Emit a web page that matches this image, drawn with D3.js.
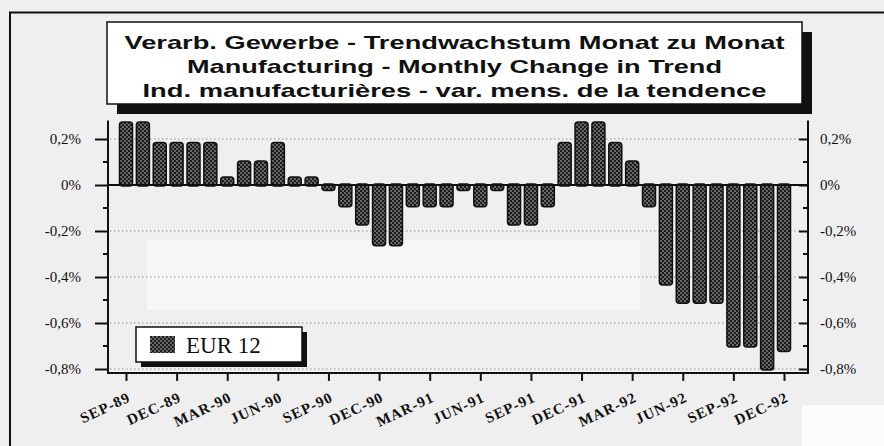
<!DOCTYPE html>
<html>
<head>
<meta charset="utf-8">
<script src="https://cdn.jsdelivr.net/npm/d3@7"></script>
<style>
  body { margin: 0; background: #efefef; }
  svg { display: block; }
</style>
</head>
<body>
<div id="chart"></div>
<script>
// monthly change in trend, EUR 12, Sep 1989 - Dec 1992
const months = ["SEP-89","OCT-89","NOV-89","DEC-89","JAN-90","FEB-90","MAR-90","APR-90","MAY-90","JUN-90",
  "JUL-90","AUG-90","SEP-90","OCT-90","NOV-90","DEC-90","JAN-91","FEB-91","MAR-91","APR-91",
  "MAY-91","JUN-91","JUL-91","AUG-91","SEP-91","OCT-91","NOV-91","DEC-91","JAN-92","FEB-92",
  "MAR-92","APR-92","MAY-92","JUN-92","JUL-92","AUG-92","SEP-92","OCT-92","NOV-92","DEC-92"];
const eur12 = [0.27, 0.27, 0.18, 0.18, 0.18, 0.18, 0.03, 0.10, 0.10, 0.18,
  0.03, 0.03, -0.02, -0.09, -0.17, -0.26, -0.26, -0.09, -0.09, -0.09,
  -0.02, -0.09, -0.02, -0.17, -0.17, -0.09, 0.18, 0.27, 0.27, 0.18,
  0.10, -0.09, -0.43, -0.51, -0.51, -0.51, -0.70, -0.70, -0.80, -0.72];
const xTickLabels = ["SEP-89","DEC-89","MAR-90","JUN-90","SEP-90","DEC-90","MAR-91","JUN-91",
  "SEP-91","DEC-91","MAR-92","JUN-92","SEP-92","DEC-92"];
const yTicks = [0.2, 0, -0.2, -0.4, -0.6, -0.8];
const yMinor = [0.1, -0.1, -0.3, -0.5, -0.7];
const titleLines = ["Verarb. Gewerbe - Trendwachstum Monat zu Monat",
  "Manufacturing - Monthly Change in Trend",
  "Ind. manufacturières - var. mens. de la tendence"];
const seriesName = "EUR 12";

const W = 884, H = 446;
const svg = d3.select("#chart").append("svg")
    .attr("width", W).attr("height", H);

const defs = svg.append("defs");
const pat = defs.append("pattern")
    .attr("id", "dots").attr("patternUnits", "userSpaceOnUse")
    .attr("width", 4).attr("height", 4);
pat.append("rect").attr("width", 4).attr("height", 4).attr("fill", "#1c1c1c");
pat.append("circle").attr("cx", 1).attr("cy", 1).attr("r", 0.9).attr("fill", "#8a8a8a");
pat.append("circle").attr("cx", 3).attr("cy", 3).attr("r", 0.9).attr("fill", "#8a8a8a");

// background + scan artefacts
svg.append("rect").attr("width", W).attr("height", H).attr("fill", "#efefef");
svg.append("rect").attr("x", 147).attr("y", 240).attr("width", 493).attr("height", 70).attr("fill", "#f6f6f6");
svg.append("rect").attr("x", 802).attr("y", 405).attr("width", 82).attr("height", 41).attr("fill", "#fbfbfb");

// outer frame
svg.append("path").attr("d", "M10,446V12.5H884")
    .attr("fill", "none").attr("stroke", "#111").attr("stroke-width", 2);

// scales
const axL = 108, axR = 808;
const x = d3.scalePoint().domain(months).range([126, 784]);
const y = d3.scaleLinear().domain([-0.8, 0.2]).range([369, 139]);
const yTop = y(0.28), yBot = y(-0.817);
const bw = 13;

const fmt = d => (d === 0 ? "0%" : d3.format(".1f")(d).replace("\u2212", "-").replace(".", ",") + "%");

// dotted grid
svg.append("g").selectAll("line")
  .data(yTicks.filter(d => d !== 0))
  .join("line")
    .attr("x1", axL + 2).attr("x2", axR - 2)
    .attr("y1", d => y(d)).attr("y2", d => y(d))
    .attr("stroke", "#8f8f8f").attr("stroke-width", 1)
    .attr("stroke-dasharray", "1.5,2.5");

// left axis
const gl = svg.append("g").attr("transform", `translate(${axL},0)`);
gl.call(d3.axisLeft(y).tickValues(yTicks).tickSize(13).tickFormat(fmt).tickPadding(14));
gl.select(".domain").remove();
gl.append("line").attr("y1", yTop).attr("y2", yBot).attr("stroke", "#111").attr("stroke-width", 2);
gl.selectAll(".minor").data(yMinor).join("line").attr("class", "minor")
    .attr("x1", -5).attr("x2", 0).attr("y1", d => y(d)).attr("y2", d => y(d))
    .attr("stroke", "#111").attr("stroke-width", 2);

// right axis (ticks inward)
const gr = svg.append("g").attr("transform", `translate(${axR},0)`);
gr.call(d3.axisRight(y).tickValues(yTicks).tickSize(-9).tickFormat(fmt).tickPadding(12));
gr.select(".domain").remove();
gr.append("line").attr("y1", yTop).attr("y2", yBot).attr("stroke", "#111").attr("stroke-width", 2);
gr.selectAll(".minor").data(yMinor).join("line").attr("class", "minor")
    .attr("x1", -5).attr("x2", 0).attr("y1", d => y(d)).attr("y2", d => y(d))
    .attr("stroke", "#111").attr("stroke-width", 2);

[gl, gr].forEach(g => {
  g.selectAll(".tick line").attr("stroke", "#111").attr("stroke-width", 2);
  g.selectAll(".tick text")
    .attr("font-family", "'Liberation Serif', 'Times New Roman', serif")
    .attr("font-size", 15).attr("fill", "#111");
});
gr.selectAll(".tick text").attr("x", 12);

// bottom axis
svg.append("line").attr("x1", axL - 1).attr("x2", axR + 1)
    .attr("y1", yBot).attr("y2", yBot).attr("stroke", "#111").attr("stroke-width", 2);
const gx = svg.append("g").attr("transform", `translate(0,${yBot})`);
gx.call(d3.axisBottom(x).tickValues(xTickLabels).tickSize(8).tickFormat(""));
gx.select(".domain").remove();
gx.selectAll(".tick line").attr("stroke", "#111").attr("stroke-width", 2);
gx.selectAll(".tick").append("text")
    .attr("transform", "translate(5,28) rotate(-25)")
    .attr("text-anchor", "end")
    .attr("font-family", "'Liberation Serif', 'Times New Roman', serif")
    .attr("font-size", 15).attr("font-weight", "bold").attr("letter-spacing", 1)
    .attr("fill", "#111")
    .text(d => d);

// bars
svg.append("g").selectAll("rect")
  .data(months.map((m, i) => ({m, v: eur12[i]})))
  .join("rect")
    .attr("x", d => x(d.m) - bw / 2)
    .attr("y", d => Math.min(y(d.v), y(0)) - 1)
    .attr("width", bw)
    .attr("height", d => Math.max(Math.abs(y(d.v) - y(0)) + 2, 5))
    .attr("rx", 3)
    .attr("fill", "url(#dots)")
    .attr("stroke", "#111").attr("stroke-width", 1.5);

// zero line
svg.append("line").attr("x1", axL).attr("x2", axR)
    .attr("y1", y(0)).attr("y2", y(0))
    .attr("stroke", "#111").attr("stroke-width", 2);

// title box
const tb = {x: 107, y: 22, w: 695, h: 82, sh: 10};
svg.append("rect").attr("x", tb.x + tb.sh).attr("y", tb.y + tb.sh)
    .attr("width", tb.w).attr("height", tb.h).attr("fill", "#111");
svg.append("rect").attr("x", tb.x).attr("y", tb.y)
    .attr("width", tb.w).attr("height", tb.h)
    .attr("fill", "#fff").attr("stroke", "#111").attr("stroke-width", 1.5);
const titleWidths = [660, 535, 624];
svg.append("g").selectAll("text")
  .data(titleLines)
  .join("text")
    .attr("x", tb.x + tb.w / 2)
    .attr("y", (d, i) => 49 + i * 24)
    .attr("text-anchor", "middle")
    .attr("font-family", "'Liberation Sans', Arial, sans-serif")
    .attr("font-weight", "bold").attr("font-size", 19)
    .attr("textLength", (d, i) => titleWidths[i])
    .attr("lengthAdjust", "spacingAndGlyphs")
    .attr("fill", "#111")
    .text(d => d);

// legend
const lg = svg.append("g");
lg.append("rect").attr("x", 141).attr("y", 332).attr("width", 166).attr("height", 35).attr("fill", "#111");
lg.append("rect").attr("x", 136).attr("y", 327).attr("width", 166).attr("height", 35)
    .attr("fill", "#fff").attr("stroke", "#111").attr("stroke-width", 1.5);
lg.append("rect").attr("x", 150).attr("y", 336).attr("width", 25).attr("height", 17)
    .attr("fill", "url(#dots)");
lg.append("text").attr("x", 186).attr("y", 353)
    .attr("font-family", "'Liberation Serif', 'Times New Roman', serif")
    .attr("font-size", 23).attr("fill", "#111")
    .text(seriesName);
</script>
</body>
</html>
